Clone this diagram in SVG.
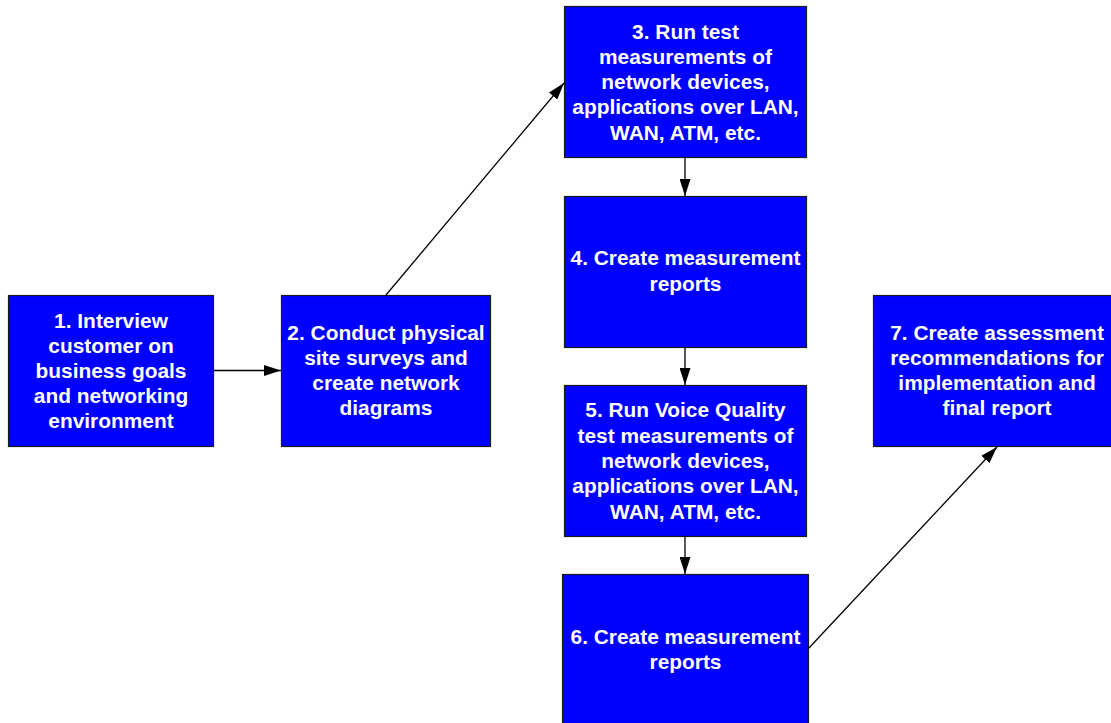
<svg xmlns="http://www.w3.org/2000/svg" width="1111" height="723" viewBox="0 0 1111 723">
<defs>
<style>
.box{fill:#0000FF;stroke:#1a1a1a;stroke-width:1.2}
.t{font-family:"Liberation Sans",Arial,sans-serif;font-weight:bold;font-size:20.9px;fill:#FFFFFF;text-anchor:middle}
.c{stroke:#000;stroke-width:1.3;fill:none;marker-end:url(#ah)}
</style>
<marker id="ah" markerWidth="17" markerHeight="11" refX="17" refY="5.5" orient="auto" markerUnits="userSpaceOnUse">
<path d="M0,0 L17,5.5 L0,11 Z" fill="#000"/>
</marker>
</defs>
<rect width="1111" height="723" fill="#FFFFFF"/>
<g id="connectors">
<line class="c" x1="213" y1="370.5" x2="281" y2="370.5"/>
<line class="c" x1="386" y1="295" x2="564" y2="83"/>
<line class="c" x1="685" y1="158" x2="685" y2="196"/>
<line class="c" x1="685" y1="347" x2="685" y2="385"/>
<line class="c" x1="685" y1="537" x2="685" y2="574"/>
<line class="c" x1="808" y1="649" x2="997" y2="447"/>
</g>
<g id="node1">
<rect class="box" x="8.5" y="295.5" width="205" height="151"/>
<text class="t" x="111" y="327.5">1. Interview</text>
<text class="t" x="111" y="352.5">customer on</text>
<text class="t" x="111" y="377.5">business goals</text>
<text class="t" x="111" y="403">and networking</text>
<text class="t" x="111" y="428">environment</text>
</g>
<g id="node2">
<rect class="box" x="281.5" y="295.5" width="209" height="151"/>
<text class="t" x="386" y="339.5">2. Conduct physical</text>
<text class="t" x="386" y="364.5">site surveys and</text>
<text class="t" x="386" y="390">create network</text>
<text class="t" x="386" y="415">diagrams</text>
</g>
<g id="node3">
<rect class="box" x="564.5" y="6.5" width="242" height="151"/>
<text class="t" x="685.5" y="38.5">3. Run test</text>
<text class="t" x="685.5" y="63.5">measurements of</text>
<text class="t" x="685.5" y="89">network devices,</text>
<text class="t" x="685.5" y="114">applications over LAN,</text>
<text class="t" x="685.5" y="139.5">WAN, ATM, etc.</text>
</g>
<g id="node4">
<rect class="box" x="564.5" y="196.5" width="242" height="151"/>
<text class="t" x="685.5" y="265">4. Create measurement</text>
<text class="t" x="685.5" y="291">reports</text>
</g>
<g id="node5">
<rect class="box" x="564.5" y="385.5" width="242" height="151"/>
<text class="t" x="685.5" y="417">5. Run Voice Quality</text>
<text class="t" x="685.5" y="442.5">test measurements of</text>
<text class="t" x="685.5" y="468">network devices,</text>
<text class="t" x="685.5" y="493">applications over LAN,</text>
<text class="t" x="685.5" y="518.5">WAN, ATM, etc.</text>
</g>
<g id="node6">
<rect class="box" x="562.5" y="574.5" width="246" height="160"/>
<text class="t" x="685.5" y="643.5">6. Create measurement</text>
<text class="t" x="685.5" y="668.5">reports</text>
</g>
<g id="node7">
<rect class="box" x="873.5" y="295.5" width="248" height="151"/>
<text class="t" x="997" y="340">7. Create assessment</text>
<text class="t" x="997" y="365">recommendations for</text>
<text class="t" x="997" y="390">implementation and</text>
<text class="t" x="997" y="415">final report</text>
</g>
</svg>
